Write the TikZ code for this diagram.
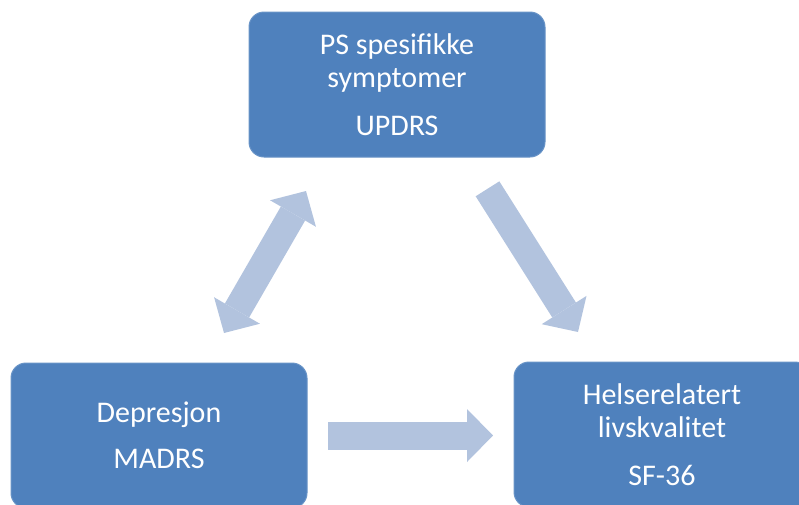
\documentclass[tikz,border=0pt]{standalone}
\usepackage{fontspec}
\setmainfont{Carlito}
\usepackage{tikz}
\usetikzlibrary{arrows.meta}
\usepackage{xcolor}

\definecolor{boxblue}{RGB}{79,129,189}
\definecolor{arrowblue}{RGB}{178,195,222}

\tikzset{
	scalebox/.style={draw=boxblue!85!white, line width=1pt, fill=boxblue, rounded corners=15pt,
		minimum width=296pt, minimum height=145pt, text=white, align=center,
		font=\fontsize{30}{33}\selectfont},
	blockarrow/.style={draw=arrowblue, line width=28pt}
}

\begin{document}
\begin{tikzpicture}[x=1pt, y=-1pt, >={Triangle[length=26pt, width=53pt, line width=0pt]}]
		\useasboundingbox (0,0) rectangle (799,504);
		
		\node [scalebox] (ps) at (397,84.5) {PS spesifikke\\symptomer\\[15pt]UPDRS};
		\node [scalebox] (dep) at (159,435.5) {Depresjon\\[13pt]MADRS};
		\node [scalebox] (sf) at (662,434.5) {Helserelatert\\livskvalitet\\[15pt]SF-36};
		
	%	arrow ends between the boxes
		\coordinate (dep-up) at (224,333);
		\coordinate (ps-left) at (306,191);
		\coordinate (ps-right) at (487.5,188.8);
		\coordinate (sf-up) at (578,332);
		\coordinate (dep-right) at (328,435.5);
		\coordinate (sf-left) at (493,435.5);
		
		\draw [blockarrow, <->] (dep-up) -- (ps-left);
		
		\draw [blockarrow, ->] (ps-right) -- (sf-up);
		
		\draw [blockarrow, ->] (dep-right) -- (sf-left);
	\end{tikzpicture}
\end{document}
